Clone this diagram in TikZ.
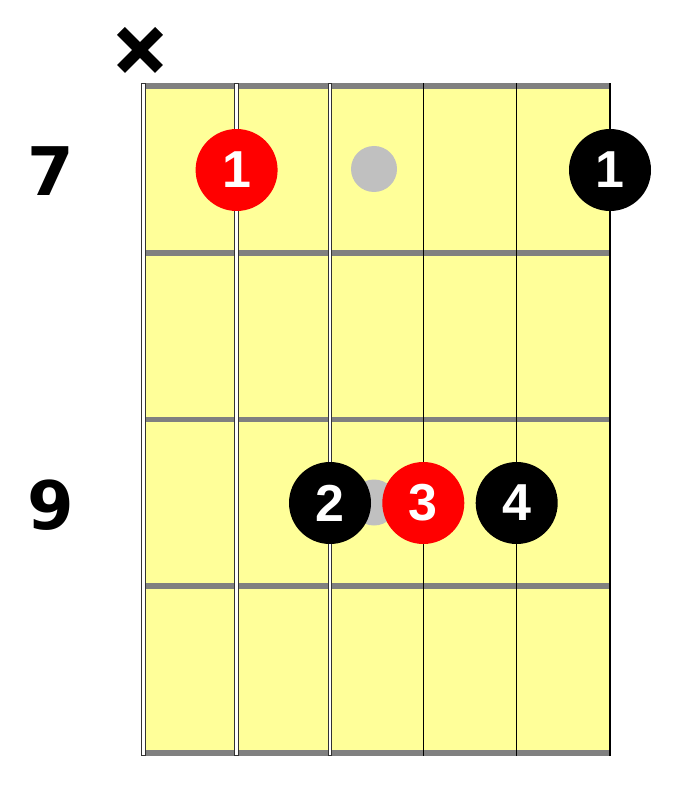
\documentclass[tikz,border=0pt]{standalone}
\usepackage{fontspec}
\setmainfont{Liberation Sans}
\newfontfamily\labfont{DejaVu Sans}
\definecolor{board}{RGB}{255,255,153}
\definecolor{fretgray}{RGB}{128,128,128}
\definecolor{dotgray}{RGB}{192,192,192}
\definecolor{strdark}{RGB}{51,51,51}
\begin{document}
\begin{tikzpicture}[x=1pt,y=-1pt,
  fretline/.style={line width=5.5pt,draw=fretgray},
  woundstr/.style={fill=white,draw=strdark,line width=1pt},
  plainstr/.style={line width=1.1pt,draw=black},
  finger/.style={circle,minimum size=82pt,inner sep=0pt,text=white,
    font=\bfseries\fontsize{52}{52}\selectfont},
  redfinger/.style={finger,fill=red},
  blackfinger/.style={finger,fill=black},
  inlay/.style={circle,fill=dotgray,minimum size=46pt,inner sep=0pt},
  fretnum/.style={font=\labfont\bfseries\fontsize{67}{67}\selectfont,inner sep=0pt},
  mutemark/.style={line width=11pt,draw=black}]
\useasboundingbox (0,0) rectangle (682,786);
% board
\fill[board] (143.3,86.2) rectangle (610,752.9);
% frets
\foreach \y [count=\i] in {86.2,252.9,419.5,586.2,752.9}
  \draw[fretline] (143.3,\y) -- (610,\y);
% strings
\draw[woundstr] (141,83.4) rectangle (145.6,755.7);
\draw[woundstr] (234.6,83.4) rectangle (238.0,755.7);
\draw[woundstr] (328.8,83.4) rectangle (331.2,755.7);
\draw[plainstr] (423.3,83.4) -- (423.3,755.7);
\draw[plainstr] (516.7,83.4) -- (516.7,755.7);
\draw[plainstr] (610,83.4) -- (610,755.7);
% inlays
\node[inlay] (d1) at (374,169) {};
\node[inlay] (d2) at (374,502.5) {};
% fingers
\node[redfinger] (f1) at (236.6,170) {\raisebox{-3pt}{1}};
\node[blackfinger] (f6) at (610,170) {\raisebox{-3pt}{1}};
\node[blackfinger] (f2) at (330,503) {\raisebox{-3pt}{2}};
\node[redfinger] (f3) at (423.3,503) {\raisebox{-3pt}{3}};
\node[blackfinger] (f4) at (516.7,503) {\raisebox{-3pt}{4}};
% fret numbers
\node[fretnum] (n7) at (51,171) {7};
\node[fretnum] (n9) at (51,505) {9};
% mute mark
\coordinate (m1) at (121,31);
\coordinate (m2) at (159,69);
\coordinate (m3) at (121,69);
\coordinate (m4) at (159,31);
\draw[mutemark] (m1) -- (m2);
\draw[mutemark] (m3) -- (m4);
\end{tikzpicture}
\end{document}
